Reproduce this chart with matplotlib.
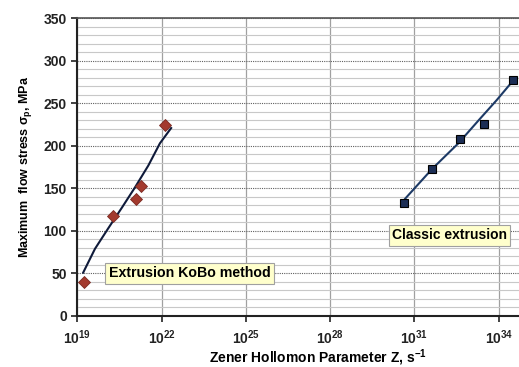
import numpy as np
import matplotlib
matplotlib.use("Agg")
from matplotlib import pyplot as plt
from matplotlib.ticker import FixedLocator, MultipleLocator

plt.rcParams['font.family'] = ['Liberation Sans', 'DejaVu Sans']
plt.rcParams['mathtext.fontset'] = 'custom'
plt.rcParams['mathtext.rm'] = 'Liberation Sans:bold'
plt.rcParams['mathtext.it'] = 'Liberation Sans:bold'
plt.rcParams['mathtext.bf'] = 'Liberation Sans:bold'

# KoBo extrusion data (log10 Z, stress MPa)
kobo_logz = [19.25, 20.26, 21.09, 21.26, 22.11]
kobo_stress = [40, 117, 137, 153, 225]
# trend line
kobo_fit_logz = [19.21, 19.63, 20.10, 20.58, 21.05, 21.53, 21.94, 22.34]
kobo_fit_stress = [51, 79, 103, 127, 151, 177, 203, 221]

# classic extrusion data
classic_logz = [30.61, 31.63, 32.62, 33.49, 34.49]
classic_stress = [133, 173, 208, 226, 278]
classic_fit_logz = [30.67, 31.63, 32.56, 33.28, 33.93, 34.49]
classic_fit_stress = [138, 173, 203, 230, 254, 276]

xtick_exp = [19, 22, 25, 28, 31, 34]

fig = plt.figure(figsize=(5.19, 3.67), dpi=100)
ax = fig.add_axes([0.1489, 0.139, 0.8511, 0.811])

ax.set_xscale('log')
ax.set_xlim(1e19, 10 ** 34.72)
ax.set_ylim(0, 350)

# grid
ax.yaxis.set_minor_locator(MultipleLocator(10))
ax.yaxis.set_major_locator(MultipleLocator(50))
ax.grid(which='minor', axis='y', color='#c8c8c8', lw=0.8)
ax.grid(which='major', axis='y', color='#606060', lw=0.8, ls=(0, (1, 1)))
ax.xaxis.set_major_locator(FixedLocator([10.0 ** e for e in xtick_exp]))
ax.xaxis.set_minor_locator(FixedLocator([]))
ax.grid(which='major', axis='x', color='#a0a0a0', lw=0.9)
ax.set_axisbelow(True)

ax.set_xticklabels([r'$\mathbf{10^{%d}}$' % e for e in xtick_exp])

ax.plot(10.0 ** np.array(kobo_fit_logz), kobo_fit_stress, color='#0f1a3a', lw=1.5, zorder=3)
ax.plot(10.0 ** np.array(kobo_logz), kobo_stress, ls='none', marker='D', ms=6,
        mfc='#a33a2e', mec='#7a2a22', mew=0.6, zorder=4)
ax.plot(10.0 ** np.array(classic_fit_logz), classic_fit_stress, color='#1d3a66', lw=1.5, zorder=3)
ax.plot(10.0 ** np.array(classic_logz), classic_stress, ls='none', marker='s', ms=6,
        mfc='#1c2e55', mec='#000000', mew=0.8, zorder=4)

for s in ['left', 'bottom']:
    ax.spines[s].set_color('#222222')
    ax.spines[s].set_linewidth(1.5)
ax.spines['top'].set_color('#555555')
ax.spines['top'].set_linewidth(1.2)
ax.spines['right'].set_visible(False)

ax.tick_params(axis='both', which='major', direction='out', length=4, width=1.2,
               labelsize=10, colors='#222222')
ax.tick_params(axis='x', which='major', pad=5)
ax.tick_params(axis='y', which='minor', length=0)
for lab in ax.get_yticklabels():
    lab.set_fontweight('bold')

ax.set_ylabel(r'Maximum  flow stress $\sigma_p$, MPa', fontsize=9, fontweight='bold')
ax.yaxis.set_label_coords(-0.099, 0.50)
ax.set_xlabel(r'Zener Hollomon Parameter Z, s$^{-1}$', fontsize=10, fontweight='bold')
ax.xaxis.set_label_coords(0.544, -0.141)
ax.xaxis.label.set_va('center')

box = dict(boxstyle='square,pad=0.25', fc='#ffffcc', ec='#a0a0a0', lw=0.8)
ax.text(10 ** 20.13, 50, 'Extrusion KoBo method', fontsize=10.2, fontweight='bold',
        va='center', ha='left', bbox=box, zorder=5)
ax.text(10 ** 30.20, 95, 'Classic extrusion', fontsize=10, fontweight='bold',
        va='center', ha='left', bbox=box, zorder=5)

fig.savefig('out.png', dpi=100)
